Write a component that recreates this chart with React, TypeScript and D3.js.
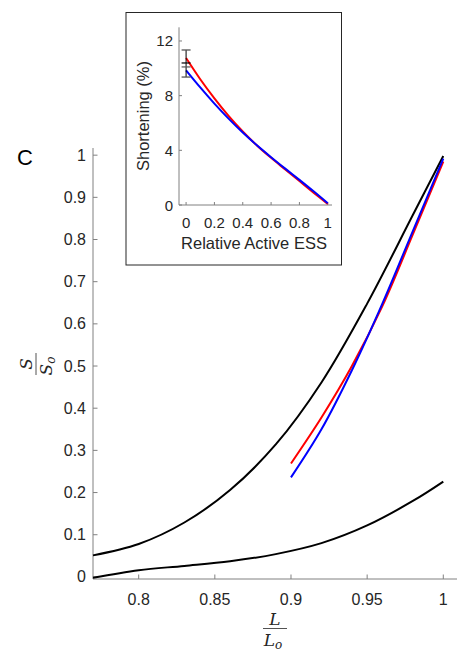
import React from "react";
import * as d3 from "d3";

// Main panel data
const upperX = [0.77, 0.8, 0.83, 0.86, 0.89, 0.92, 0.95, 0.98, 1.0];
const upperY = [0.051, 0.078, 0.129, 0.206, 0.314, 0.461, 0.648, 0.858, 0.998];
const lowerY = [-0.002, 0.016, 0.026, 0.037, 0.054, 0.08, 0.122, 0.18, 0.226];
const modelX = [0.9, 0.92, 0.94, 0.96, 0.98, 1.0];
const redMain = [0.269, 0.378, 0.5, 0.642, 0.812, 0.985];
const blueMain = [0.236, 0.35, 0.49, 0.648, 0.82, 0.992];
const mainXTicks = [0.8, 0.85, 0.9, 0.95, 1];
const mainYTicks = [0, 0.1, 0.2, 0.3, 0.4, 0.5, 0.6, 0.7, 0.8, 0.9, 1];

// Inset data
const essX = [0, 0.1, 0.2, 0.3, 0.4, 0.5, 0.6, 0.7, 0.8, 0.9, 1];
const redInset = [10.75, 9.2, 7.8, 6.52, 5.38, 4.36, 3.45, 2.6, 1.75, 0.9, 0.07];
const blueInset = [9.85, 8.6, 7.42, 6.32, 5.3, 4.37, 3.5, 2.66, 1.84, 1.0, 0.13];
const errLow = [9.36];
const errHigh = [11.34];
const errMeans = [10.39, 10.1];
const insetXTicks = [0, 0.2, 0.4, 0.6, 0.8, 1];
const insetYTicks = [0, 4, 8, 12];

const AX = "#808080";
const TXT = "#262626";
const FONT = "'Liberation Sans', Arial, sans-serif";
const SERIF = "'DejaVu Serif', 'Liberation Serif', serif";

export default function App() {
  // main scales
  const x = d3.scaleLinear().domain([0.77, 1.009]).range([93, 457]);
  const y = d3.scaleLinear().domain([-0.005, 1.017]).range([579, 148]);
  const mk = (xs: number[], ys: number[]) =>
    d3
      .line<number>()
      .x((_, i) => x(xs[i]))
      .y((d) => y(d))
      .curve(d3.curveCatmullRom.alpha(0.5))(ys) as string;

  // inset scales
  const ix = d3.scaleLinear().domain([-0.05, 1.03]).range([179, 332]);
  const iy = d3.scaleLinear().domain([0, 13]).range([205, 27.3]);
  const imk = (ys: number[]) =>
    d3
      .line<number>()
      .x((_, i) => ix(essX[i]))
      .y((d) => iy(d))
      .curve(d3.curveCatmullRom.alpha(0.5))(ys) as string;

  const [x0, x1] = x.range();
  const [y0, y1] = y.range();
  const [ix0, ix1] = ix.range();
  const [iy0, iy1] = iy.range();

  return (
    <svg
      width={458}
      height={654}
      style={{ position: "absolute", left: 0, top: 0, background: "#fff" }}
    >
      <rect x={0} y={0} width={458} height={654} fill="#fff" />
      {/* main axes */}
      <line x1={x0} x2={x0} y1={y0} y2={y1} stroke={AX} strokeWidth={1} />
      <line x1={x0} x2={x1} y1={y0} y2={y0} stroke={AX} strokeWidth={1} />
      {mainYTicks.map((t) => (
        <g key={"y" + t}>
          <line x1={x0} x2={x0 + 4.5} y1={y(t)} y2={y(t)} stroke={AX} />
          <text
            x={86}
            y={y(t)}
            textAnchor="end"
            dominantBaseline="central"
            fontFamily={FONT}
            fontSize={16}
            fill={TXT}
          >
            {String(t)}
          </text>
        </g>
      ))}
      {mainXTicks.map((t) => (
        <g key={"x" + t}>
          <line x1={x(t)} x2={x(t)} y1={y0} y2={y0 - 4.5} stroke={AX} />
          <text
            x={x(t)}
            y={599}
            textAnchor="middle"
            dominantBaseline="central"
            fontFamily={FONT}
            fontSize={16}
            fill={TXT}
          >
            {String(t)}
          </text>
        </g>
      ))}
      {/* curves */}
      <path d={mk(upperX, upperY)} fill="none" stroke="#000" strokeWidth={2} />
      <path d={mk(upperX, lowerY)} fill="none" stroke="#000" strokeWidth={2} />
      <path d={mk(modelX, redMain)} fill="none" stroke="#ff0000" strokeWidth={2} />
      <path d={mk(modelX, blueMain)} fill="none" stroke="#0000ff" strokeWidth={2} />

      {/* panel letter */}
      <text x={17} y={165} fontFamily={FONT} fontSize={22} fill="#000">
        C
      </text>

      {/* x label fraction */}
      <g fontFamily={SERIF} fontStyle="italic" fill={TXT}>
        <text x={275} y={625} textAnchor="middle" fontSize={17}>
          L
        </text>
        <line x1={263} x2={287} y1={628.5} y2={628.5} stroke={TXT} strokeWidth={0.8} />
        <text x={273} y={646} textAnchor="middle" fontSize={17}>
          L
          <tspan fontSize={12} dy={3}>
            o
          </tspan>
        </text>
      </g>

      {/* y label fraction (rotated) */}
      <g transform="translate(36,364) rotate(-90)" fontFamily={SERIF} fontStyle="italic" fill={TXT}>
        <text x={0} y={-4} textAnchor="middle" fontSize={17}>
          S
        </text>
        <line x1={-11} x2={11} y1={0} y2={0} stroke={TXT} strokeWidth={0.8} />
        <text x={-2} y={16} textAnchor="middle" fontSize={17}>
          S
          <tspan fontSize={12} dy={3}>
            o
          </tspan>
        </text>
      </g>

      {/* inset */}
      <rect x={126} y={12.5} width={215.5} height={252.5} fill="#fff" stroke="#262626" strokeWidth={1} />
      <line x1={ix0} x2={ix0} y1={iy0} y2={iy1} stroke={AX} />
      <line x1={ix0} x2={ix1} y1={iy0} y2={iy0} stroke={AX} />
      {insetYTicks.map((t) => (
        <g key={"iy" + t}>
          <line x1={ix0} x2={ix0 + 3} y1={iy(t)} y2={iy(t)} stroke={AX} />
          <text
            x={173}
            y={iy(t)}
            textAnchor="end"
            dominantBaseline="central"
            fontFamily={FONT}
            fontSize={15}
            fill={TXT}
          >
            {String(t)}
          </text>
        </g>
      ))}
      {insetXTicks.map((t) => (
        <g key={"ix" + t}>
          <line x1={ix(t)} x2={ix(t)} y1={iy0} y2={iy0 - 3} stroke={AX} />
          <text
            x={ix(t)}
            y={222}
            textAnchor="middle"
            dominantBaseline="central"
            fontFamily={FONT}
            fontSize={15}
            fill={TXT}
          >
            {String(t)}
          </text>
        </g>
      ))}
      <text
        x={254}
        y={243}
        textAnchor="middle"
        dominantBaseline="central"
        fontFamily={FONT}
        fontSize={16.5}
        fill={TXT}
      >
        Relative Active ESS
      </text>
      <text
        transform={`translate(143,116) rotate(-90)`}
        textAnchor="middle"
        dominantBaseline="central"
        fontFamily={FONT}
        fontSize={16.5}
        fill={TXT}
      >
        Shortening (%)
      </text>
      <path d={imk(redInset)} fill="none" stroke="#ff0000" strokeWidth={2} />
      <path d={imk(blueInset)} fill="none" stroke="#0000ff" strokeWidth={2} />
      {/* error bars */}
      {errLow.map((lo, i) => (
        <g key={"e" + i}>
          <line x1={ix(0)} x2={ix(0)} y1={iy(lo)} y2={iy(errHigh[i])} stroke="#000" strokeWidth={1} />
          <line x1={ix(0) - 4.5} x2={ix(0) + 4.5} y1={iy(lo)} y2={iy(lo)} stroke="#555" strokeWidth={1.3} />
          <line x1={ix(0) - 4.5} x2={ix(0) + 4.5} y1={iy(errHigh[i])} y2={iy(errHigh[i])} stroke="#555" strokeWidth={1.3} />
        </g>
      ))}
      {errMeans.map((m, i) => (
        <line
          key={"m" + i}
          x1={ix(0) - 4.5}
          x2={ix(0) + 4.5}
          y1={iy(m)}
          y2={iy(m)}
          stroke={i === 0 ? "#000" : "#555"}
          strokeWidth={1.2}
        />
      ))}
    </svg>
  );
}
